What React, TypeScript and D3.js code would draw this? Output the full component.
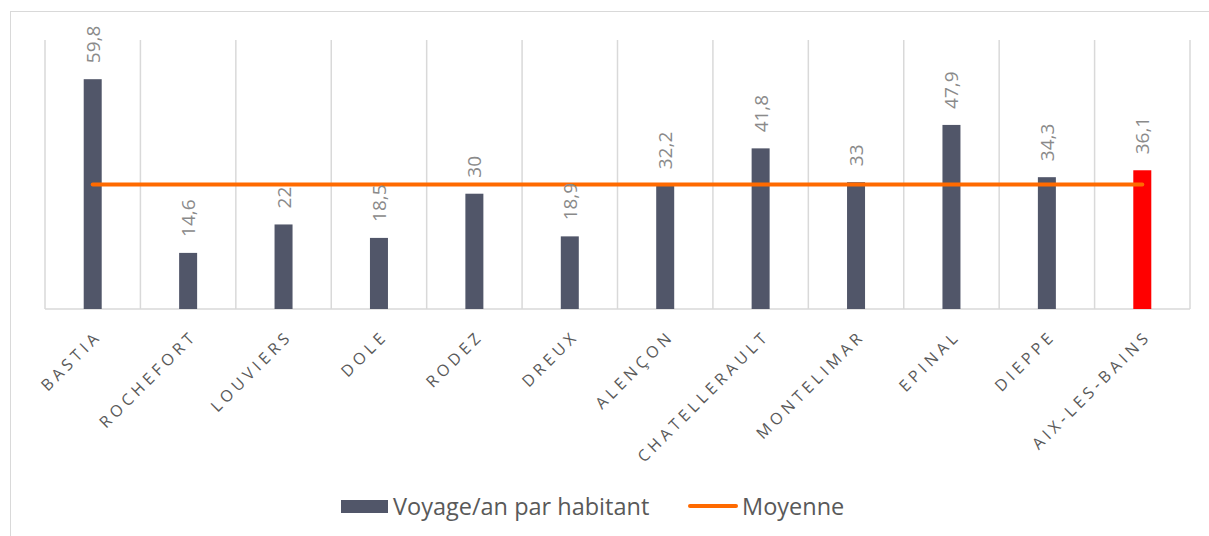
import React from 'react'
import * as d3 from 'd3'

const villes = [
	'BASTIA',
	'ROCHEFORT',
	'LOUVIERS',
	'DOLE',
	'RODEZ',
	'DREUX',
	'ALENÇON',
	'CHATELLERAULT',
	'MONTELIMAR',
	'EPINAL',
	'DIEPPE',
	'AIX-LES-BAINS'
]
const voyages = [59.8, 14.6, 22, 18.5, 30, 18.9, 32.2, 41.8, 33, 47.9, 34.3, 36.1]
const moyenne = [32.4, 32.4, 32.4, 32.4, 32.4, 32.4, 32.4, 32.4, 32.4, 32.4, 32.4, 32.4]
const highlight = 'AIX-LES-BAINS'

const W = 1209
const H = 536
const margin = { left: 45, right: 19, top: 40, bottom: 227 }
const font = '"Open Sans", sans-serif'

const App = () => {
	const x = d3
		.scaleBand()
		.domain(villes)
		.range([margin.left, W - margin.right])
	const y = d3
		.scaleLinear()
		.domain([0, 70])
		.range([H - margin.bottom, margin.top])
	const bw = 18
	const cx = (v: string) => (x(v) as number) + x.bandwidth() / 2
	const line = d3
		.line<number>()
		.x((_, i) => cx(villes[i]))
		.y((d) => y(d))
	const fmt = (v: number) => String(v).replace('.', ',')
	const bottom = y(0)

	return (
		<svg
			width={W}
			height={H}
			style={{ position: 'absolute', left: 0, top: 0, background: '#fff' }}
		>
			<rect x={10.5} y={11.5} width={1400} height={700} fill="none" stroke="#d9d9d9" />
			{/* grille */}
			<g stroke="#d9d9d9" strokeWidth={1.5}>
				{[...villes.map((v) => x(v) as number), W - margin.right].map((gx, i) => (
					<line key={i} x1={gx} x2={gx} y1={margin.top} y2={bottom} />
				))}
				<line x1={margin.left} x2={W - margin.right} y1={bottom} y2={bottom} />
			</g>
			{/* barres */}
			<g>
				{voyages.map((v, i) => (
					<rect
						key={i}
						x={cx(villes[i]) - bw / 2}
						y={y(v)}
						width={bw}
						height={bottom - y(v)}
						fill={villes[i] === highlight ? '#ff0000' : '#515669'}
					/>
				))}
			</g>
			{/* moyenne */}
			<path
				d={line(moyenne) || ''}
				fill="none"
				stroke="#ff6a00"
				strokeWidth={4}
				strokeLinecap="round"
			/>
			{/* étiquettes */}
			<g fill="#8a8a8a" fontFamily={font} fontSize={19}>
				{voyages.map((v, i) => {
					const tx = cx(villes[i]) + 7
					const ty = y(v) - 16
					return (
						<text key={i} transform={`translate(${tx},${ty}) rotate(-90)`}>
							{fmt(v)}
						</text>
					)
				})}
			</g>
			{/* axe x */}
			<g fill="#595959" fontFamily={font} fontSize={16} letterSpacing={4.2}>
				{villes.map((v) => (
					<text
						key={v}
						textAnchor="end"
						transform={`translate(${cx(v) + 10},${bottom + 28}) rotate(-45)`}
					>
						{v}
					</text>
				))}
			</g>
			{/* légende */}
			<g fontFamily={font} fontSize={23.5} fill="#595959">
				<rect x={341} y={500} width={47} height={13} fill="#515669" />
				<text x={393} y={515}>
					Voyage/an par habitant
				</text>
				<line
					x1={690}
					x2={736}
					y1={506}
					y2={506}
					stroke="#ff6a00"
					strokeWidth={4}
					strokeLinecap="round"
				/>
				<text x={742} y={515}>
					Moyenne
				</text>
			</g>
		</svg>
	)
}

export default App
